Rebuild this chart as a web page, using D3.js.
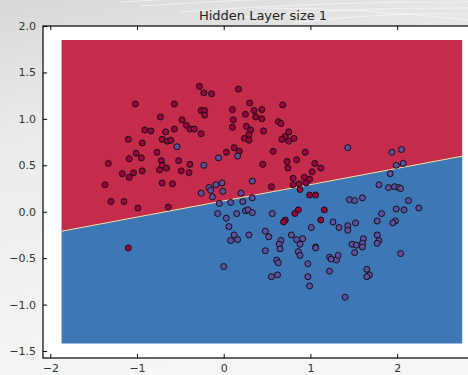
<!DOCTYPE html>
<html>
<head>
<meta charset="utf-8">
<script src="https://cdn.jsdelivr.net/npm/d3@7"></script>
<style>
  html, body { margin: 0; padding: 0; }
  body { width: 468px; height: 375px; overflow: hidden; }
  svg { display: block; }
</style>
</head>
<body>
<svg id="chart" width="468" height="375"></svg>
<script>
// Class 0 (upper moon)
const class0X = [-0.28,-0.23,-0.14,0.17,0.30,0.35,0.37,-1.02,-0.57,-0.73,-0.48,-0.26,-0.22,-0.22,0.10,0.11,0.25,
  -0.43,-0.39,-0.34,-0.57,-0.91,-0.84,-0.67,-0.26,0.10,0.26,0.31,0.29,0.24,0.29,-1.10,-0.71,-0.65,-0.61,-0.94,
  -0.77,-1.01,-1.09,-0.95,0.03,0.12,0.18,-0.72,-0.52,-0.71,-0.66,-0.39,-1.33,-1.17,-1.09,-1.04,-0.94,-0.74,-0.49,
  -0.40,-1.37,-0.71,-0.59,0.68,0.44,0.44,0.46,0.63,0.66,0.75,0.71,0.67,0.75,0.81,0.57,0.94,0.45,0.84,0.73,0.74,
  1.05,1.12,1.02,0.93,0.99,0.95,0.80,0.87,0.80,0.88,0.55,0.99,1.06,-1.30,-1.15,-0.99,-0.64,-1.10,0.86,0.82,0.71,
  0.69,1.16,1.12];
const class0Y = [1.35,1.28,1.27,1.32,1.17,1.09,1.02,1.16,1.16,1.02,0.99,1.09,1.09,1.04,1.10,0.99,1.05,
  0.93,0.89,0.89,0.89,0.88,0.87,0.86,0.84,0.91,0.92,0.88,0.83,0.79,0.77,0.78,0.78,0.76,0.77,0.74,
  0.64,0.63,0.57,0.58,0.64,0.69,0.65,0.55,0.55,0.50,0.47,0.51,0.52,0.41,0.37,0.42,0.44,0.45,0.44,
  0.42,0.29,0.31,0.30,1.15,1.10,1.00,0.87,0.97,0.95,0.86,0.81,0.78,0.76,0.79,0.65,0.64,0.51,0.56,0.54,0.47,
  0.52,0.47,0.43,0.37,0.35,0.31,0.36,0.30,0.29,0.24,0.27,0.18,0.18,0.11,0.11,0.04,0.05,-0.39,0.02,-0.02,-0.09,
  -0.11,0.02,-0.09];

// Class 1 (lower moon)
const class1X = [-0.54,-0.23,-0.06,0.16,-0.17,-0.15,-0.09,-0.02,-0.01,-0.26,0.20,0.33,-0.13,0.33,0.22,-0.05,0.08,
  -0.07,0.03,0.15,0.25,0.28,0.33,0.06,0.12,0.08,0.16,0.29,0.00,1.43,1.94,2.05,1.99,2.07,1.92,1.79,1.90,1.97,
  2.02,2.04,1.45,1.51,1.60,2.13,1.99,2.08,2.25,1.82,1.77,1.98,1.95,1.26,1.33,1.43,1.43,1.52,1.01,0.91,0.84,
  0.88,0.86,0.88,1.06,1.06,1.61,1.48,1.53,1.60,1.60,1.77,1.79,1.77,1.51,2.04,1.22,1.24,1.30,1.32,0.97,1.22,
  1.65,1.68,1.65,0.97,0.99,1.40,0.56,0.48,0.52,0.78,0.66,0.64,0.65,0.48,0.61,0.63,0.55,0.62];
const class1Y = [0.70,0.50,0.58,0.60,0.26,0.23,0.29,0.31,0.22,0.20,0.20,0.33,0.16,0.15,0.11,0.09,0.10,
  -0.02,-0.07,-0.02,0.01,0.02,-0.01,-0.16,-0.25,-0.31,-0.30,-0.25,-0.59,0.69,0.64,0.67,0.50,0.52,0.41,0.29,0.26,0.27,
  0.26,0.25,0.13,0.12,0.15,0.12,0.03,0.02,0.04,-0.02,-0.10,-0.10,-0.12,-0.11,-0.17,-0.15,-0.20,-0.12,-0.17,-0.29,-0.30,
  -0.35,-0.43,-0.47,-0.38,-0.39,-0.29,-0.35,-0.36,-0.34,-0.38,-0.25,-0.31,-0.34,-0.44,-0.45,-0.49,-0.51,-0.52,-0.47,-0.56,-0.64,
  -0.62,-0.68,-0.70,-0.70,-0.80,-0.92,-0.02,-0.21,-0.27,-0.25,-0.31,-0.35,-0.40,-0.42,-0.52,-0.55,-0.70,-0.68];

// Decision boundary of the fitted model (end points across the grid)
const boundaryX = [-1.87, 2.76];
const boundaryY = [-0.21, 0.60];

const xTicks = [-2, -1, 0, 1, 2];
const yTicks = [-1.5, -1.0, -0.5, 0.0, 0.5, 1.0, 1.5, 2.0];
const titleText = "Hidden Layer size 1";

const colors = {
  region0: "#c52b4b",
  region1: "#3e77b5",
  point0: "#9e0142",
  point1: "#5e4fa2",
  edge: "#f3e99a"
};

(function draw() {
  const W = 468, H = 375;
  const svg = d3.select("#chart");

  // page backdrop
  const defs = svg.append("defs");
  const bg = defs.append("linearGradient").attr("id", "bg")
    .attr("x1", 0).attr("y1", 0).attr("x2", 0.25).attr("y2", 1);
  bg.append("stop").attr("offset", 0).attr("stop-color", "#d8d8d8");
  bg.append("stop").attr("offset", 0.35).attr("stop-color", "#ebebeb");
  bg.append("stop").attr("offset", 1).attr("stop-color", "#f6f6f6");
  svg.append("rect").attr("width", W).attr("height", H).attr("fill", "url(#bg)");

  // faint sketch strokes along the top
  const strokes = svg.append("g").attr("stroke", "#ffffff").attr("fill", "none")
    .attr("stroke-opacity", 0.55).attr("stroke-width", 1);
  [[140, 6, 470, -4], [180, 12, 470, 2], [230, 18, 470, 8], [300, 22, 470, 14], [120, 2, 420, -6], [260, 8, 468, 20]]
    .forEach(([x1, y1, x2, y2]) => {
      strokes.append("path").attr("d", `M${x1},${y1} Q${(x1 + x2) / 2},${(y1 + y2) / 2 - 6} ${x2},${y2}`);
    });

  // axes area
  const mLeft = 43, mTop = 26, mRight = 483, mBottom = 358;
  const x = d3.scaleLinear().domain([-2.084, 2.99]).range([mLeft, mRight]);
  const y = d3.scaleLinear().domain([-1.575, 2.0]).range([mBottom, mTop]);

  svg.append("rect").attr("x", mLeft).attr("y", mTop)
    .attr("width", mRight - mLeft).attr("height", mBottom - mTop).attr("fill", "#ffffff");

  // prediction grid extent
  const allX = class0X.concat(class1X), allY = class0Y.concat(class1Y);
  const gx0 = d3.min(allX) - 0.5, gx1 = d3.max(allX) + 0.5;
  const gy0 = d3.min(allY) - 0.5, gy1 = d3.max(allY) + 0.5;

  const slope = (boundaryY[1] - boundaryY[0]) / (boundaryX[1] - boundaryX[0]);
  const yb = v => boundaryY[0] + (v - boundaryX[0]) * slope;

  const line = d3.line().x(d => x(d[0])).y(d => y(d[1]));

  const regions = svg.append("g");
  regions.append("path")
    .attr("d", line([[gx0, gy1], [gx1, gy1], [gx1, yb(gx1)], [gx0, yb(gx0)]]) + "Z")
    .attr("fill", colors.region0);
  regions.append("path")
    .attr("d", line([[gx0, yb(gx0)], [gx1, yb(gx1)], [gx1, gy0], [gx0, gy0]]) + "Z")
    .attr("fill", colors.region1);
  regions.append("path")
    .attr("d", line([[gx0, yb(gx0)], [gx1, yb(gx1)]]))
    .attr("stroke", colors.edge).attr("stroke-width", 0.9).attr("fill", "none");

  // scatter points
  const pts = svg.append("g").attr("stroke", "#111").attr("stroke-width", 1);
  pts.selectAll("circle.c0").data(d3.range(class0X.length)).join("circle")
    .attr("class", "c0")
    .attr("cx", i => x(class0X[i])).attr("cy", i => y(class0Y[i]))
    .attr("r", 3).attr("fill", colors.point0);
  pts.selectAll("circle.c1").data(d3.range(class1X.length)).join("circle")
    .attr("class", "c1")
    .attr("cx", i => x(class1X[i])).attr("cy", i => y(class1Y[i]))
    .attr("r", 3).attr("fill", colors.point1);

  // axes with inward ticks
  const fmtY = d => d3.format(".1f")(d).replace("-", "\u2212");
  const fmtX = d => String(d).replace("-", "\u2212");

  const styleAxis = g => {
    g.select(".domain").remove();
    g.selectAll(".tick line").attr("stroke", "#000");
    g.selectAll(".tick text").attr("fill", "#333")
      .style("font-family", "'DejaVu Sans', sans-serif").style("font-size", "11px");
  };

  svg.append("g").attr("transform", `translate(0,${mBottom})`)
    .call(d3.axisBottom(x).tickValues(xTicks).tickFormat(fmtX).tickSizeInner(-4).tickSizeOuter(0).tickPadding(6))
    .call(styleAxis);
  svg.append("g").attr("transform", `translate(0,${mTop})`)
    .call(d3.axisTop(x).tickValues(xTicks).tickFormat("").tickSizeInner(-4).tickSizeOuter(0))
    .call(styleAxis);
  svg.append("g").attr("transform", `translate(${mLeft},0)`)
    .call(d3.axisLeft(y).tickValues(yTicks).tickFormat(fmtY).tickSizeInner(-4).tickSizeOuter(0).tickPadding(7))
    .call(styleAxis);

  // frame
  svg.append("rect").attr("x", mLeft).attr("y", mTop)
    .attr("width", mRight - mLeft).attr("height", mBottom - mTop)
    .attr("fill", "none").attr("stroke", "#000").attr("stroke-width", 1.2);

  // title
  svg.append("text")
    .attr("x", (mLeft + mRight) / 2).attr("y", 20)
    .attr("text-anchor", "middle")
    .attr("fill", "#222")
    .style("font-family", "'DejaVu Sans', sans-serif").style("font-size", "13px")
    .text(titleText);
})();
</script>
</body>
</html>
